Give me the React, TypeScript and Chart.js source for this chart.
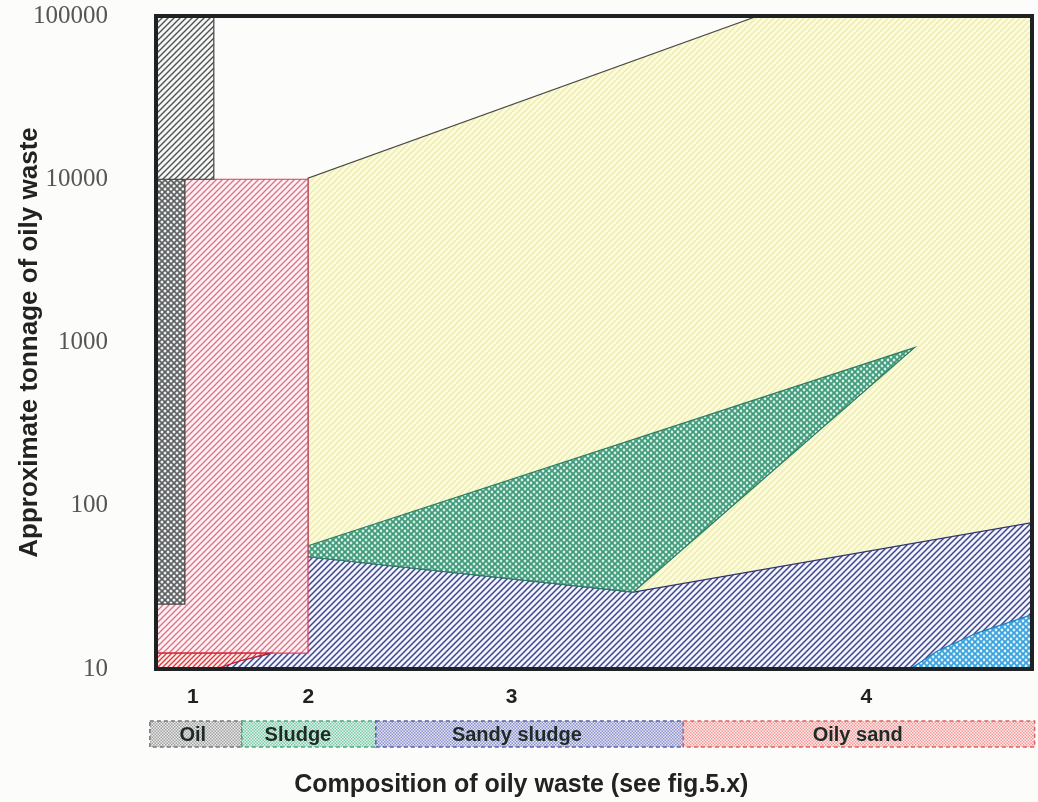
import React, { useEffect, useRef } from 'react';
import { Chart, registerables } from 'chart.js';

Chart.register(...registerables);

// Axis ticks
const xTickValues = [4.2, 17.4, 40.6, 81.1];
const xTickLabels = ['1', '2', '3', '4'];
const yTickValues = [10, 100, 1000, 10000, 100000];

// Region outlines (x: composition position 0–100, y: tonnage)
const yellowX = [17.35, 17.35, 68.7, 100, 100, 17.35];
const yellowY = [10, 10140, 100000, 100000, 10, 10];

const sandyX = [6.8, 9.5, 13.0, 17.35, 54.5, 100, 100, 6.8];
const sandyY = [10, 11.2, 12.4, 48.7, 29.6, 78.7, 10, 10];

const sludgeX = [17.35, 86.6, 54.5, 17.35, 17.35];
const sludgeY = [56.9, 931, 29.6, 48.7, 56.9];

const lightBlueX = [86.1, 89.2, 93.7, 99.5, 100, 100, 86.1];
const lightBlueY = [10, 12.9, 16.6, 21.1, 21.3, 10, 10];

const pinkX = [0, 17.35, 17.35, 0, 0];
const pinkY = [12.5, 12.5, 10000, 10000, 12.5];

const redX = [0, 13.0, 9.5, 6.8, 0, 0];
const redY = [12.5, 12.5, 11.2, 10, 10, 12.5];

const oilLowX = [0, 3.3, 3.3, 0, 0];
const oilLowY = [25, 25, 10000, 10000, 25];

const oilHighX = [0, 6.6, 6.6, 0, 0];
const oilHighY = [10000, 10000, 100000, 100000, 10000];

// Composition bands below the axis
const bandEdges = [-0.7, 9.8, 25.1, 60.2, 100.3];
const bandNames = ['Oil', 'Sludge', 'Sandy sludge', 'Oily sand'];
const bandLabelX = [4.2, 16.2, 41.2, 80.1];

const yTitle = 'Approximate tonnage of oily waste';
const xTitle = 'Composition of oily waste (see fig.5.x)';

function pts(xs: number[], ys: number[]) {
  return xs.map((x, i) => ({ x, y: ys[i] }));
}

function hatch(bg: string, fg: string, size: number, lw: number) {
  const c = document.createElement('canvas');
  c.width = size;
  c.height = size;
  const g = c.getContext('2d')!;
  g.fillStyle = bg;
  g.fillRect(0, 0, size, size);
  g.strokeStyle = fg;
  g.lineWidth = lw;
  g.beginPath();
  g.moveTo(-1, size + 1);
  g.lineTo(size + 1, -1);
  g.moveTo(-1, 1);
  g.lineTo(1, -1);
  g.moveTo(size - 1, size + 1);
  g.lineTo(size + 1, size - 1);
  g.stroke();
  return g.createPattern(c, 'repeat')!;
}

function dotted(dark: string, light: string, size: number, r: number) {
  const c = document.createElement('canvas');
  c.width = size;
  c.height = size;
  const g = c.getContext('2d')!;
  g.fillStyle = dark;
  g.fillRect(0, 0, size, size);
  g.fillStyle = light;
  const centers = [
    [0, 0], [size, 0], [0, size], [size, size], [size / 2, size / 2],
  ];
  for (const [cx, cy] of centers) {
    g.beginPath();
    g.arc(cx, cy, r, 0, Math.PI * 2);
    g.fill();
  }
  return g.createPattern(c, 'repeat')!;
}

function stipple(bg: string, fg: string) {
  const c = document.createElement('canvas');
  c.width = 3;
  c.height = 3;
  const g = c.getContext('2d')!;
  g.fillStyle = bg;
  g.fillRect(0, 0, 3, 3);
  g.fillStyle = fg;
  g.fillRect(0, 0, 1.5, 1.5);
  g.fillRect(1.5, 1.5, 1.5, 1.5);
  return g.createPattern(c, 'repeat')!;
}

export default function App() {
  const ref = useRef<HTMLCanvasElement | null>(null);

  useEffect(() => {
    if (!ref.current) return;

    const bandFills = [
      stipple('#ececec', '#a0a0a0'),
      stipple('#e3f4ec', '#7cc9a8'),
      stipple('#e6e7f5', '#8c91cc'),
      stipple('#fdecec', '#f29a9a'),
    ];
    const bandBorders = ['#777', '#4aa884', '#5a60a8', '#e06060'];

    const plugin = {
      id: 'decor',
      beforeDraw(chart: any) {
        const c = chart.ctx;
        c.save();
        c.fillStyle = '#fcfcfa';
        c.fillRect(0, 0, chart.width, chart.height);
        c.restore();
      },
      afterDatasetsDraw(chart: any) {
        const c = chart.ctx;
        const a = chart.chartArea;
        c.save();
        c.strokeStyle = '#1f2224';
        c.lineWidth = 4;
        c.strokeRect(a.left, a.top, a.right - a.left, a.bottom - a.top);
        c.restore();
      },
      afterDraw(chart: any) {
        const c = chart.ctx;
        const a = chart.chartArea;
        const xs = chart.scales.x;
        const top = a.bottom + 52;
        const h = 26;
        c.save();
        for (let i = 0; i < bandNames.length; i++) {
          const x0 = xs.getPixelForValue(bandEdges[i]);
          const x1 = xs.getPixelForValue(bandEdges[i + 1]);
          c.fillStyle = bandFills[i];
          c.fillRect(x0, top, x1 - x0, h);
          c.setLineDash([4, 3]);
          c.strokeStyle = bandBorders[i];
          c.lineWidth = 1.5;
          c.strokeRect(x0, top, x1 - x0, h);
        }
        c.setLineDash([]);
        c.fillStyle = '#1e2a26';
        c.font = 'bold 20px "Liberation Sans", Arial, sans-serif';
        c.textAlign = 'center';
        c.textBaseline = 'middle';
        for (let i = 0; i < bandNames.length; i++) {
          c.fillText(bandNames[i], xs.getPixelForValue(bandLabelX[i]), top + h / 2 + 1);
        }
        c.fillStyle = '#222';
        c.font = 'bold 25px "Liberation Sans", Arial, sans-serif';
        c.fillText(xTitle, xs.getPixelForValue(41.7), a.bottom + 116);
        c.restore();
      },
    };

    const chart = new Chart(ref.current, {
      type: 'line',
      data: {
        datasets: [
          {
            label: 'Oily sand',
            data: pts(yellowX, yellowY),
            backgroundColor: hatch('#fbfbe2', '#f0ec9e', 6, 1.3),
            borderColor: '#4a4a44',
            borderWidth: 1.2,
            order: 10,
          },
          {
            label: 'Sandy sludge',
            data: pts(sandyX, sandyY),
            backgroundColor: hatch('#f3f4fa', '#3d4590', 6, 1.5),
            borderColor: '#2e3470',
            borderWidth: 1.2,
            order: 9,
          },
          {
            label: 'Sludge',
            data: pts(sludgeX, sludgeY),
            backgroundColor: dotted('#3f9a7b', '#d6eee3', 6, 1.4),
            borderColor: '#2d7e62',
            borderWidth: 1.2,
            order: 8,
          },
          {
            label: 'Beach',
            data: pts(lightBlueX, lightBlueY),
            backgroundColor: dotted('#3aa2dc', '#e0f2fb', 6, 1.4),
            borderColor: '#1f7fc0',
            borderWidth: 1.2,
            order: 7,
          },
          {
            label: 'Sludge pits',
            data: pts(pinkX, pinkY),
            backgroundColor: hatch('#fdf2f4', '#df6f84', 6, 1.3),
            borderColor: '#e03c5a',
            borderWidth: 1.2,
            order: 6,
          },
          {
            label: 'Shoreline',
            data: pts(redX, redY),
            backgroundColor: hatch('#fdeeee', '#d83a40', 5, 1.3),
            borderColor: '#d0202a',
            borderWidth: 1.2,
            order: 5,
          },
          {
            label: 'Oil (low)',
            data: pts(oilLowX, oilLowY),
            backgroundColor: dotted('#5c6060', '#eeeeee', 6, 1.5),
            borderColor: '#444',
            borderWidth: 1.2,
            order: 4,
          },
          {
            label: 'Oil (high)',
            data: pts(oilHighX, oilHighY),
            backgroundColor: hatch('#f6f6f4', '#4f5252', 6, 1.4),
            borderColor: '#444',
            borderWidth: 1.2,
            order: 3,
          },
        ].map((d) => ({
          ...d,
          fill: 'shape',
          pointRadius: 0,
          tension: 0,
        })) as any,
      },
      options: {
        animation: false,
        responsive: false,
        devicePixelRatio: 1,
        events: [],
        layout: { padding: { left: 0, right: 6, top: 16, bottom: 0 } },
        plugins: {
          legend: { display: false },
          tooltip: { enabled: false },
        },
        scales: {
          x: {
            type: 'linear',
            min: 0,
            max: 100,
            grid: { display: false },
            border: { display: false },
            afterBuildTicks: (s: any) => {
              s.ticks = xTickValues.map((v) => ({ value: v }));
            },
            afterFit: (s: any) => {
              s.height = 133;
              s.paddingLeft = 0;
              s.paddingRight = 0;
            },
            ticks: {
              autoSkip: false,
              maxRotation: 0,
              padding: 8,
              color: '#222',
              font: { family: '"Liberation Sans", Arial, sans-serif', size: 21, weight: 'bold' },
              callback: (_v: any, i: number) => xTickLabels[i],
            },
          },
          y: {
            type: 'logarithmic',
            min: 10,
            max: 100000,
            grid: { display: false },
            border: { display: false },
            afterBuildTicks: (s: any) => {
              s.ticks = yTickValues.map((v) => ({ value: v }));
            },
            afterFit: (s: any) => {
              s.width = 156;
              s.paddingTop = 0;
              s.paddingBottom = 0;
            },
            ticks: {
              padding: 40,
              color: '#555',
              font: { family: '"Liberation Serif", serif', size: 25 },
              callback: (v: any) => String(v),
            },
            title: {
              display: true,
              text: yTitle,
              color: '#222',
              font: { family: '"Liberation Sans", Arial, sans-serif', size: 26, weight: 'bold' },
              padding: { top: 14, bottom: 0 },
            },
          },
        },
      } as any,
      plugins: [plugin],
    });

    return () => chart.destroy();
  }, []);

  return (
    <div style={{ position: 'fixed', left: 0, top: 0, width: 1038, height: 802 }}>
      <canvas ref={ref} width={1038} height={802} style={{ display: 'block' }} />
    </div>
  );
}
